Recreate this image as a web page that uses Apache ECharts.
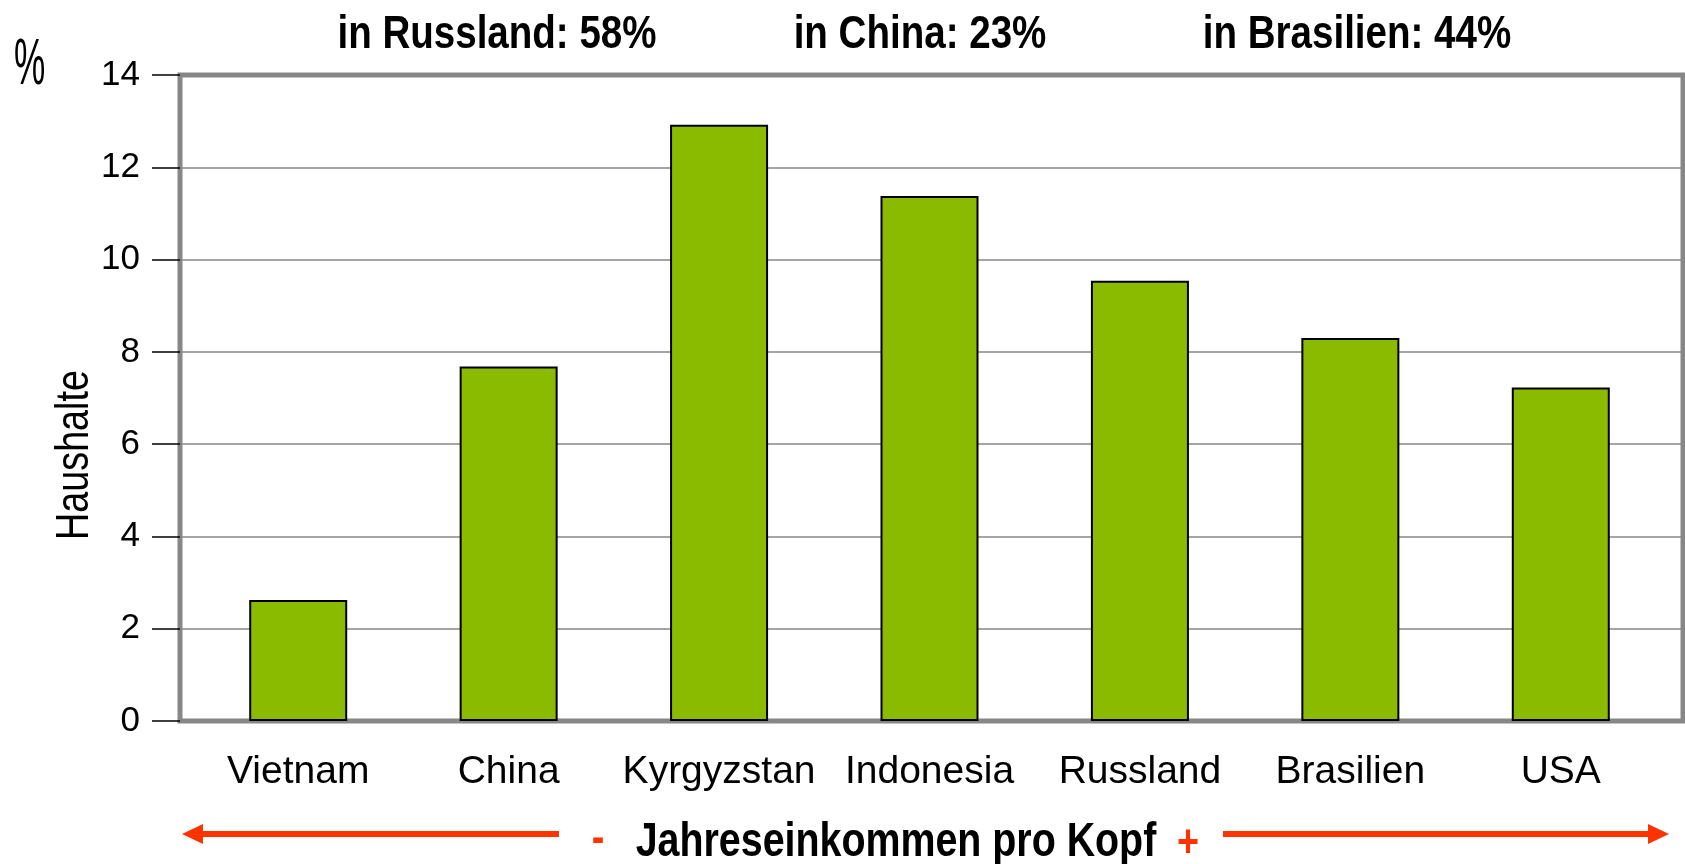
<!DOCTYPE html>
<html><head><meta charset="utf-8">
<script src="https://cdn.jsdelivr.net/npm/echarts@6/dist/echarts.min.js"></script>
<style>html,body{margin:0;padding:0;background:#fff}#c{width:1685px;height:864px}</style>
</head><body><div id="c"></div>
<script>
// ---- data ----
const categories = ['Vietnam', 'China', 'Kyrgyzstan', 'Indonesia', 'Russland', 'Brasilien', 'USA'];
const values = [2.62, 7.68, 12.92, 11.38, 9.54, 8.30, 7.23];
const yMin = 0, yMax = 14, yStep = 2;
const topNotes = ['in Russland: 58%', 'in China: 23%', 'in Brasilien: 44%'];
const unitLabel = '%';
const yTitle = 'Haushalte';
const xTitle = 'Jahreseinkommen pro Kopf';
const minusSign = '-', plusSign = '+';

// ---- layout / style ----
const REG = '"Liberation Sans", Arial, Helvetica, sans-serif';
const NARROW_SCALE = 0.82;   // emulate Arial Narrow (not installed)
const RED = '#FF3300';
const GRAY = '#878787';
const notePos = [497, 920, 1357];

const chart = echarts.init(document.getElementById('c'), null, {renderer: 'canvas'});
const frame = {left: 180, top: 75, width: 1503, height: 646};
const arrowY = 834;

function arrow(x1, x2, tipX, dir) {
  return [
    {type: 'line', shape: {x1: x1, y1: arrowY, x2: x2, y2: arrowY}, style: {stroke: RED, lineWidth: 6}},
    {type: 'polygon', shape: {points: [[tipX, arrowY], [tipX - dir * 21, arrowY - 10], [tipX - dir * 21, arrowY + 10]]}, style: {fill: RED}}
  ];
}
function narrowText(text, x, y, font, fill, extra) {
  return Object.assign({type: 'text', x: x, y: y, scaleX: NARROW_SCALE,
    style: {text: text, font: font, fill: fill, align: 'center', verticalAlign: 'middle'}}, extra || {});
}

const option = {
  backgroundColor: '#fff',
  animation: false,
  grid: [
    {left: frame.left, top: frame.top, width: frame.width, height: frame.height, show: true,
     borderColor: GRAY, borderWidth: 5, backgroundColor: 'transparent', outerBoundsMode: 'none', containLabel: false},
    {left: 193, right: 19, top: frame.top, height: frame.height, outerBoundsMode: 'none', containLabel: false}
  ],
  xAxis: [
    {type: 'value', gridIndex: 0, show: false, min: 0, max: 1},
    {type: 'category', gridIndex: 1, data: categories, boundaryGap: true,
     axisLine: {show: false}, axisTick: {show: false}, splitLine: {show: false},
     axisLabel: {interval: 0, margin: 32, color: '#000', fontFamily: REG, fontSize: 39}}
  ],
  yAxis: [
    {type: 'value', gridIndex: 0, min: yMin, max: yMax, interval: yStep, offset: 8,
     axisLine: {show: false},
     axisTick: {show: true, length: 28, lineStyle: {color: '#000', width: 1.5}},
     axisLabel: {margin: 32, color: '#000', fontFamily: REG, fontSize: 35},
     splitLine: {show: true, lineStyle: {color: GRAY, width: 1.5}}},
    {type: 'value', gridIndex: 1, min: yMin, max: yMax, interval: yStep, show: false, splitLine: {show: false}}
  ],
  series: [{
    type: 'bar', xAxisIndex: 1, yAxisIndex: 1, data: values, barWidth: 98,
    itemStyle: {color: '#8BBB00', borderColor: '#000', borderWidth: 2},
    z: 3
  }],
  graphic: [
    {type: 'text', left: 14, top: 34, scaleX: 0.55, style: {text: unitLabel, font: '64px ' + REG, fill: '#000'}},
    narrowText(yTitle, 75, 455, '46px ' + REG, '#000', {rotation: Math.PI / 2}),
    ...topNotes.map((t, i) => narrowText(t, notePos[i], 35, 'bold 47px ' + REG, '#000')),
    narrowText(xTitle, 896, 843, 'bold 48px ' + REG, '#000'),
    narrowText(minusSign, 598, 839, 'bold 46px ' + REG, RED),
    narrowText(plusSign, 1188, 844, 'bold 46px ' + REG, RED),
    ...arrow(200, 559, 182, -1),
    ...arrow(1223, 1652, 1669, 1)
  ]
};
chart.setOption(option);
</script>
</body></html>
